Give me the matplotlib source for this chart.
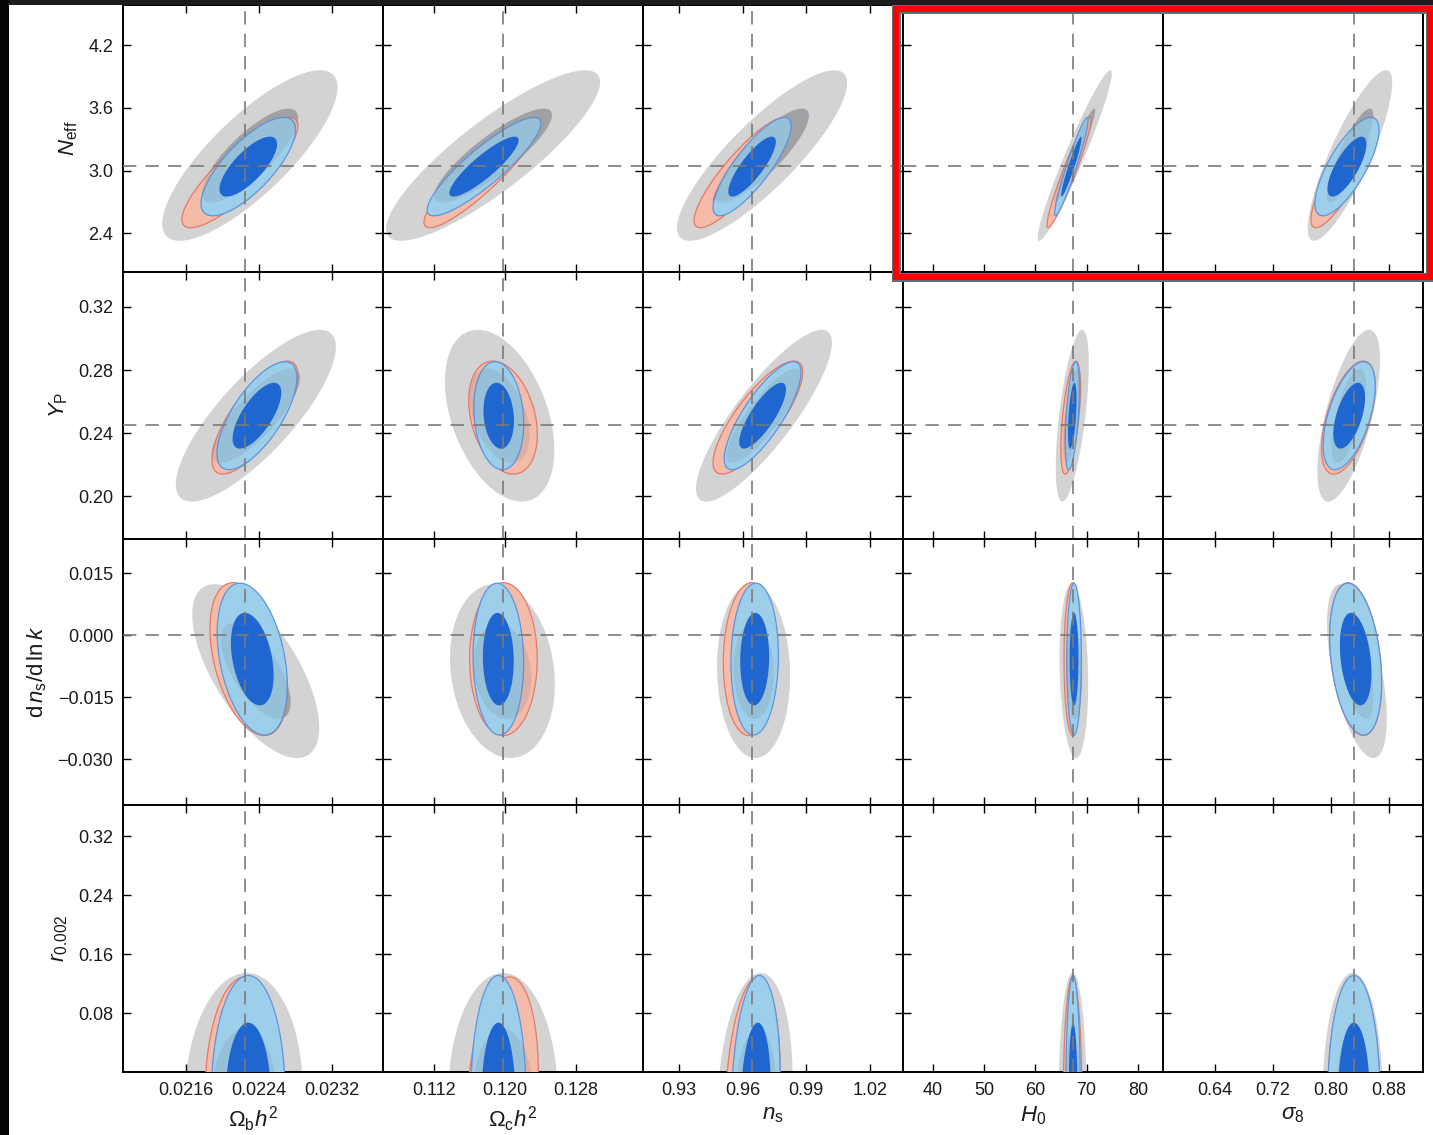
import numpy as np
import matplotlib
matplotlib.use("Agg")
import matplotlib.pyplot as plt
from matplotlib.patches import Rectangle

plt.rcParams['font.family'] = ['Liberation Sans', 'DejaVu Sans']
plt.rcParams['mathtext.fontset'] = 'custom'
plt.rcParams['mathtext.rm'] = 'Liberation Sans'
plt.rcParams['mathtext.it'] = 'Liberation Sans:italic'
plt.rcParams['mathtext.bf'] = 'Liberation Sans:bold'

# ---------------- axes / labels ----------------
x_labels = [r'$\Omega_{\rm b}h^2$', r'$\Omega_{\rm c}h^2$', r'$n_{\rm s}$', r'$H_0$', r'$\sigma_8$']
y_labels = [r'$N_{\rm eff}$', r'$Y_{\rm P}$',
            r'${\rm d}\,n_{\rm s}/{\rm d}\,{\rm ln}\,k$', r'$r_{0.002}$']

x_limits = [(0.02091, 0.02376), (0.10625, 0.13555), (0.913, 1.0356), (34.18, 84.9), (0.5687, 0.9267)]
y_limits = [(2.033, 4.583), (0.1733, 0.3423), (-0.0412, 0.0234), (0.0, 0.362)]

x_ticks = [[0.0216, 0.0224, 0.0232], [0.112, 0.120, 0.128], [0.93, 0.96, 0.99, 1.02],
           [40, 50, 60, 70, 80], [0.64, 0.72, 0.80, 0.88]]
x_ticklabels = [['0.0216', '0.0224', '0.0232'], ['0.112', '0.120', '0.128'],
                ['0.93', '0.96', '0.99', '1.02'], ['40', '50', '60', '70', '80'],
                ['0.64', '0.72', '0.80', '0.88']]
y_ticks = [[2.4, 3.0, 3.6, 4.2], [0.20, 0.24, 0.28, 0.32], [-0.030, -0.015, 0.000, 0.015],
           [0.08, 0.16, 0.24, 0.32]]
y_ticklabels = [['2.4', '3.0', '3.6', '4.2'], ['0.20', '0.24', '0.28', '0.32'],
                ['\u22120.030', '\u22120.015', '0.000', '0.015'], ['0.08', '0.16', '0.24', '0.32']]

x_ref = [0.02225, 0.1198, 0.9644, 67.3, 0.8314]
y_ref = [3.046, 0.245, 0.0, None]

# ---------------- contour data (95% region extents; 68% derived) ----------------
# per row: centre and half-extent of the 95% region in the row parameter
gray_yc = [3.144, 0.2511, -0.00871, -0.033]
gray_yh = [0.815, 0.0544, 0.02105, 0.1675]
red_yc = [2.981, 0.2499, -0.00581, -0.033]
red_yh = [0.527, 0.0358, 0.0185, 0.162]
blue_yc = [3.038, 0.2511, -0.00581, -0.033]
blue_yh = [0.470, 0.0342, 0.01838, 0.164]

# per panel: centre / half-extent in the column parameter, and correlation
gray_xc = [[0.022301, 0.11865, 0.96915, 67.69, 0.8262],
           [0.022366, 0.119392, 0.97005, 67.2, 0.8244],
           [0.022365, 0.119707, 0.96514, 67.51, 0.8357],
           [0.022232, 0.119764, 0.9658, 67.27, 0.8299]]
gray_xh = [[0.000961, 0.01206, 0.0401, 7.22, 0.0581],
           [0.000877, 0.006164, 0.03203, 3.22, 0.0431],
           [0.000696, 0.005904, 0.01722, 2.79, 0.0412],
           [0.000647, 0.006164, 0.01774, 2.69, 0.0412]]
gray_rho = [[0.80, 0.86, 0.85, 0.96, 0.85],
            [0.80, -0.40, 0.85, 0.60, 0.65],
            [-0.65, -0.15, -0.05, -0.15, -0.55],
            [0.05, 0.0, 0.15, 0.0, 0.0]]

red_xc = [[0.022192, 0.11741, 0.95972, 66.57, 0.8179],
          [0.022356, 0.119775, 0.96717, 66.87, 0.8240],
          [0.022287, 0.11982, 0.96359, 67.27, 0.8340],
          [0.022247, 0.119707, 0.96467, 67.26, 0.8315]]
red_xh = [[0.000636, 0.00654, 0.02264, 4.29, 0.0454],
          [0.000471, 0.003865, 0.02113, 1.89, 0.0370],
          [0.000424, 0.003809, 0.01274, 1.68, 0.0357],
          [0.000438, 0.004045, 0.01302, 1.79, 0.0358]]
red_rho = [[0.85, 0.90, 0.87, 0.95, 0.85],
           [0.75, -0.30, 0.80, 0.55, 0.55],
           [-0.40, 0.0, 0.05, 0.0, -0.30],
           [0.0, 0.20, 0.20, 0.0, 0.0]]

blue_xc = [[0.022283, 0.11763, 0.96443, 67.02, 0.8220],
           [0.022378, 0.11929, 0.96939, 67.2, 0.8251],
           [0.022327, 0.119245, 0.96566, 67.55, 0.8340],
           [0.022283, 0.119257, 0.96613, 67.35, 0.8315]]
blue_xh = [[0.000518, 0.00640, 0.0184, 3.26, 0.0441],
           [0.000438, 0.002817, 0.01811, 1.37, 0.0358],
           [0.000384, 0.002851, 0.01118, 1.42, 0.0357],
           [0.000405, 0.00311, 0.01156, 1.42, 0.0358]]
blue_rho = [[0.75, 0.88, 0.83, 0.95, 0.75],
            [0.70, -0.15, 0.80, 0.50, 0.55],
            [-0.35, -0.05, 0.05, 0.0, -0.30],
            [0.0, 0.0, 0.15, 0.0, 0.0]]

K68 = 1.515 / 2.486      # 68% / 95% contour size (red, blue)
K68_GRAY = 0.55          # the gray constraint has broader tails

# ---------------- figure ----------------
W, H = 1433, 1135
fig = plt.figure(figsize=(W / 100, H / 100), dpi=100)
gs = fig.add_gridspec(4, 5, left=123 / W, right=1423 / W, top=1 - 5 / H, bottom=1 - 1072 / H,
                      wspace=0, hspace=0)

tt = np.linspace(0, 2 * np.pi, 400)


def ellipse(mx, my, hx, hy, rho, s):
    x = mx + s * hx * np.cos(tt)
    y = my + s * hy * (rho * np.cos(tt) + np.sqrt(1 - rho ** 2) * np.sin(tt))
    return x, y


text_color = '#1a1a1a'
for i in range(4):
    for j in range(5):
        ax = fig.add_subplot(gs[i, j])
        g = (gray_xc[i][j], gray_yc[i], gray_xh[i][j], gray_yh[i], gray_rho[i][j])
        r = (red_xc[i][j], red_yc[i], red_xh[i][j], red_yh[i], red_rho[i][j])
        b = (blue_xc[i][j], blue_yc[i], blue_xh[i][j], blue_yh[i], blue_rho[i][j])

        ax.fill(*ellipse(*g, 1.0), color='#d3d3d3', lw=0, zorder=1)
        ax.fill(*ellipse(*g, K68_GRAY), color='#a9a9a9', lw=0, zorder=2)
        ax.fill(*ellipse(*r, 1.0), facecolor='#f3bba8', edgecolor='#e57a66', lw=0.9, zorder=3)
        ax.fill(*ellipse(*r, K68), color='#d6503c', lw=0, zorder=4)
        ax.fill(*ellipse(*b, 1.0), facecolor='#9dcfea', edgecolor='#5b95e3', lw=0.9, zorder=5)
        ax.fill(*ellipse(*g, K68_GRAY), color='#7d8294', alpha=0.2, lw=0, zorder=6)
        ax.fill(*ellipse(*b, K68), color='#1f66d1', lw=0, zorder=7)

        ax.axvline(x_ref[j], color='#7a7a7a', lw=1.2, dashes=(8, 5.5), zorder=8)
        if y_ref[i] is not None:
            ax.axhline(y_ref[i], color='#7a7a7a', lw=1.2, dashes=(8, 5.5), zorder=8)

        ax.set_xlim(*x_limits[j])
        ax.set_ylim(*y_limits[i])
        ax.set_xticks(x_ticks[j])
        ax.set_yticks(y_ticks[i])
        ax.tick_params(direction='in', length=6, width=1.0, top=True, right=True,
                       colors='black', labelcolor=text_color, labelsize=13, pad=7)
        for sp in ax.spines.values():
            sp.set_linewidth(1.4)
            sp.set_color('black')
        if j == 0:
            ax.set_yticklabels(y_ticklabels[i])
            ax.set_ylabel(y_labels[i], fontsize=16, color=text_color, labelpad=6)
        else:
            ax.set_yticklabels([])
        if i == 3:
            ax.set_xticklabels(x_ticklabels[j])
            ax.set_xlabel(x_labels[j], fontsize=16, color=text_color, labelpad=4)
        else:
            ax.set_xticklabels([])


def px_rect(x0, y0, x1, y1, **kw):
    return Rectangle((x0 / W, 1 - y1 / H), (x1 - x0) / W, (y1 - y0) / H,
                     transform=fig.transFigure, **kw)


# dark frame pieces of the screenshot
fig.add_artist(px_rect(0, 0, W, 5, facecolor='#1c1c1c', edgecolor='none', zorder=20))
fig.add_artist(px_rect(0, 0, 9, H, facecolor='#050505', edgecolor='none', zorder=20))

# highlight box around top-right panels
fig.add_artist(px_rect(895.5, 9.5, 1429.5, 277, facecolor='none', edgecolor='#5f6e7d',
                       lw=9 * 0.72, zorder=21))
fig.add_artist(px_rect(895.5, 9.5, 1429.5, 277, facecolor='none', edgecolor='#ff0000',
                       lw=6 * 0.72, zorder=22))

fig.savefig('out.png', dpi=100)
